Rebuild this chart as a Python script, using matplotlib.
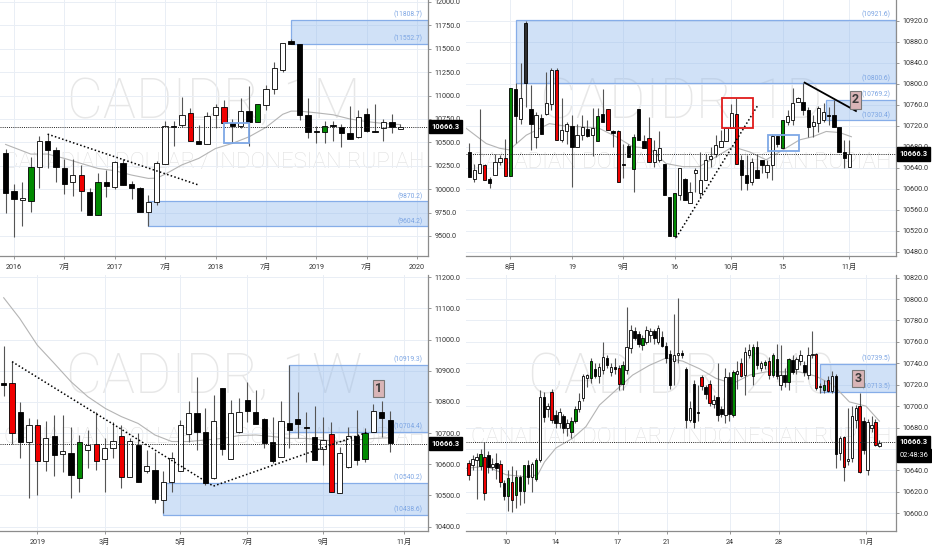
import numpy as np
import matplotlib
matplotlib.use("Agg")
import matplotlib.pyplot as plt
from matplotlib.patches import Rectangle
from matplotlib.transforms import blended_transform_factory

plt.rcParams['font.family'] = ['Roboto', 'Noto Sans CJK SC']

last_price = 10666.3
subtitle = 'CANADIAN DOLLAR / INDONESIAN RUPIAH'

# ---- monthly (top left), index 0 = 2016-01
m_idx = np.arange(-1, 47)
m_open = [10382, 9984, 9884, 9870, 10240, 10514, 10418, 10229, 10080, 10151, 9973, 9724, 10080, 10027, 10275, 10051,
          10009, 9760, 9866, 10270, 10677, 10691, 10809, 10517, 10482, 10791, 10873, 10709, 10674, 10834, 10720, 10898,
          11075, 11271, 11584, 11556, 10791, 10620, 10613, 10677, 10667, 10595, 10553, 10802, 10620, 10649, 10713, 10638]
m_high = [10425, 10055, 10080, 10347, 10567, 10588, 10453, 10318, 10318, 10258, 10009, 10176, 10204, 10300, 10318, 10087,
          10027, 9938, 10300, 10730, 10730, 10987, 10862, 10684, 10827, 10915, 10951, 10755, 10979, 11100, 10908, 11111,
          11360, 11566, 11600, 11556, 10979, 10674, 10730, 10730, 10695, 10887, 10844, 10862, 10915, 10755, 10802, 10695]
m_low = [9742, 9493, 9607, 9760, 10009, 10222, 10080, 9945, 9927, 9770, 9724, 9724, 9920, 9998, 10044, 9895,
         9756, 9607, 9831, 10270, 10464, 10667, 10517, 10482, 10482, 10656, 10702, 10489, 10649, 10460, 10720, 10844,
         11015, 11250, 11552, 10738, 10542, 10496, 10496, 10517, 10453, 10531, 10542, 10613, 10609, 10517, 10595, 10638]
m_close = [9962, 9891, 9909, 10240, 10514, 10418, 10240, 10055, 10151, 9984, 9724, 10080, 10037, 10286, 10044, 10016,
           9760, 9866, 10275, 10674, 10667, 10791, 10517, 10482, 10780, 10873, 10709, 10674, 10834, 10720, 10908, 11075,
           11296, 11566, 11556, 10791, 10613, 10609, 10674, 10670, 10595, 10531, 10766, 10624, 10609, 10720, 10667, 10666]
m_col = "kkwgwkkkwr" "kgkwkkkwww" "kwrkwwrkwk" "gwwwkkkkgk" "kkwkkwkw"
m_ticks = [0, 6, 12, 18, 24, 30, 36, 42, 48]
m_labels = ['2016', '7月', '2017', '7月', '2018', '7月', '2019', '7月', '2020']
m_ma_x = [-1, 2, 4, 6, 8, 10, 12, 14, 16, 17, 18, 20, 22, 24, 26, 28, 30, 32, 33, 34, 36, 38, 40, 42, 44, 46]
m_ma_y = [10478, 10375, 10375, 10329, 10275, 10222, 10197, 10151, 10115, 10118, 10160, 10260, 10329, 10435, 10489,
          10560, 10660, 10800, 10834, 10834, 10816, 10795, 10750, 10722, 10702, 10690]
m_zones = [(33, 11552.7, 11808.7), (16, 9604.2, 9870.2)]
m_trend_x = [4, 22]
m_trend_y = [10588, 10044]
m_box = (25, 28, 10489, 10709)

# ---- daily (top right), index 0 = 2019-08-01
d_idx = np.arange(-8, 67)
d_open = [10669, 10618, 10629, 10646, 10618, 10626, 10650, 10658,
          10624, 10789, 10732, 10915, 10751, 10699, 10734, 10743, 10761, 10826,
          10693, 10710, 10719, 10680, 10702, 10713, 10702, 10690, 10743, 10751,
          10709, 10710, 10648, 10681, 10637, 10751, 10690, 10696, 10651, 10655,
          10648, 10585, 10509, 10588, 10618, 10572, 10630, 10592, 10617, 10656,
          10666, 10680, 10690, 10715, 10742, 10655, 10626, 10613, 10636, 10655,
          10632, 10645, 10700, 10677, 10728, 10731, 10766, 10766, 10750, 10719,
          10726, 10731, 10740, 10740, 10718, 10670, 10641]
d_high = [10688, 10648, 10751, 10648, 10623, 10667, 10664, 10694,
          10791, 10801, 10839, 10920, 10797, 10747, 10743, 10823, 10829, 10829,
          10772, 10728, 10740, 10724, 10740, 10731, 10753, 10753, 10789, 10751,
          10712, 10712, 10685, 10686, 10705, 10751, 10702, 10737, 10693, 10709,
          10648, 10585, 10591, 10639, 10620, 10613, 10639, 10670, 10667, 10680,
          10702, 10712, 10718, 10761, 10772, 10664, 10664, 10658, 10667, 10655,
          10655, 10705, 10700, 10731, 10750, 10791, 10775, 10802, 10755, 10740,
          10757, 10763, 10756, 10769, 10718, 10693, 10693]
d_low = [10623, 10613, 10629, 10617, 10601, 10626, 10646, 10624,
         10624, 10688, 10724, 10756, 10674, 10677, 10705, 10740, 10750, 10693,
         10689, 10686, 10604, 10680, 10693, 10699, 10662, 10690, 10728, 10712,
         10680, 10613, 10620, 10661, 10594, 10693, 10677, 10650, 10642, 10651,
         10588, 10510, 10507, 10578, 10578, 10572, 10594, 10585, 10617, 10642,
         10661, 10680, 10690, 10715, 10648, 10597, 10597, 10607, 10620, 10629,
         10620, 10617, 10680, 10677, 10721, 10721, 10766, 10740, 10699, 10699,
         10708, 10728, 10721, 10718, 10670, 10639, 10641]
d_close = [10623, 10636, 10648, 10617, 10611, 10651, 10658, 10624,
           10791, 10738, 10772, 10802, 10724, 10740, 10705, 10763, 10826, 10693,
           10712, 10724, 10679, 10702, 10718, 10700, 10715, 10739, 10728, 10712,
           10707, 10613, 10646, 10661, 10699, 10693, 10677, 10650, 10674, 10677,
           10588, 10510, 10591, 10639, 10578, 10594, 10635, 10617, 10655, 10662,
           10683, 10691, 10716, 10745, 10648, 10626, 10610, 10651, 10620, 10645,
           10645, 10700, 10685, 10731, 10738, 10763, 10772, 10750, 10718, 10728,
           10753, 10747, 10738, 10718, 10670, 10658, 10667]
d_col = "kwwrkwwr" "gkwdkwkwwr" "wwkwwkwgkr" "krkkgkkrww" "kkgwkwwwww" "wwwwrkkwkk" "wwkgwwwkkw" "wwkkkkw"
d_ticks = [0, 12, 22, 32, 43, 53, 66]
d_labels = ['8月', '19', '9月', '16', '10月', '15', '11月']
d_ma_x = [-8.6, -4.7, -2.1, -0.2, 3.1, 7.6, 10.8, 14.1, 17.3, 20.6, 23.8, 27.1, 30.3, 33.6, 36.8, 40.1, 43.3,
          46.6, 49.8, 53.1, 56.3, 58.9, 61.5, 64.1, 66.4]
d_ma_y = [10715, 10686, 10677, 10674, 10702, 10724, 10719, 10718, 10715, 10699, 10680, 10677, 10648, 10642, 10642,
          10661, 10680, 10670, 10655, 10674, 10693, 10699, 10709, 10707, 10699]
d_zones = [(1, 10800.6, 10921.6), (61.4, 10730.4, 10769.2)]
d_dot_x = [32.3, 48.2]
d_dot_y = [10507, 10759]
d_line_x = [57.3, 67.3]
d_line_y = [10802, 10748]
d_red_box = (41.2, 47.2, 10716, 10773)
d_blue_box = (50.1, 56.3, 10672, 10703)

# ---- weekly (bottom left), index 0 = first week of 2019
w_idx = np.arange(-4, 43)
w_open = [10860, 10860, 10769, 10673, 10726, 10611, 10691, 10632, 10637, 10557, 10646, 10665, 10617, 10653, 10692, 10558,
          10662, 10580, 10582, 10486, 10542, 10578, 10696, 10763, 10702, 10557, 10844, 10617, 10702, 10806, 10769, 10745,
          10670, 10624, 10733, 10745, 10721, 10686, 10649, 10696, 10509, 10592, 10691, 10616, 10702, 10767, 10742]
w_high = [10980, 10931, 10801, 10747, 10745, 10740, 10758, 10758, 10721, 10694, 10710, 10767, 10683, 10737, 10726, 10683,
          10699, 10646, 10640, 10578, 10640, 10742, 10803, 10881, 10779, 10822, 10844, 10806, 10811, 10863, 10838, 10749,
          10753, 10803, 10919, 10833, 10769, 10787, 10753, 10737, 10656, 10721, 10774, 10717, 10792, 10803, 10771]
w_low = [10820, 10664, 10619, 10493, 10502, 10578, 10564, 10576, 10491, 10512, 10589, 10582, 10512, 10619, 10525, 10558,
         10544, 10571, 10475, 10443, 10512, 10578, 10673, 10646, 10534, 10553, 10630, 10617, 10699, 10737, 10729, 10651,
         10603, 10624, 10651, 10683, 10608, 10614, 10598, 10512, 10509, 10587, 10598, 10608, 10702, 10689, 10640]
w_close = [10854, 10699, 10670, 10726, 10611, 10683, 10630, 10643, 10566, 10673, 10662, 10611, 10653, 10676, 10558, 10675,
           10544, 10596, 10489, 10542, 10619, 10726, 10763, 10705, 10539, 10740, 10648, 10765, 10767, 10771, 10729, 10667,
           10612, 10740, 10710, 10728, 10715, 10614, 10678, 10512, 10635, 10691, 10614, 10701, 10771, 10749, 10667]
w_col = "krkwrwkwkg" "wrwwrwkwkw" "wwwkkwkwwk" "kkkwkkkkwr" "wwkgwkk"
w_ticks = [0, 8, 17, 25, 34, 43.6]
w_labels = ['2019', '3月', '5月', '7月', '9月', '11月']
w_ma_x = [-4, -2.1, 0, 1.9, 4, 6, 8.1, 10, 12, 14, 16, 18, 20, 22, 24, 26, 28, 30, 32, 34, 36, 38, 40, 42]
w_ma_y = [11134, 11068, 10982, 10927, 10865, 10817, 10779, 10753, 10731, 10694, 10673, 10673, 10678, 10683, 10692,
          10694, 10689, 10683, 10683, 10678, 10673, 10678, 10683, 10685]
w_zones = [(30, 10704.4, 10919.3), (15, 10438.6, 10540.2)]
w_dot_x = [-3, 20.95, 39.2]
w_dot_y = [10929, 10530, 10702]

# ---- 240 minutes (bottom right)
h_idx = np.arange(105)
h_open = [10647, 10645, 10650, 10644, 10653, 10654, 10643, 10647, 10646, 10628,
          10616, 10629, 10617, 10634, 10621, 10645, 10634, 10632, 10650, 10709,
          10697, 10713, 10692, 10684, 10691, 10680, 10676, 10686, 10697, 10708,
          10726, 10726, 10735, 10728, 10734, 10745, 10732, 10737, 10736, 10721,
          10734, 10754, 10770, 10767, 10757, 10760, 10766, 10770, 10760, 10765,
          10756, 10749, 10742, 10748, 10750, 10735, 10687, 10721, 10695, 10727,
          10718, 10721, 10702, 10709, 10697, 10692, 10727, 10692, 10730, 10740,
          10729, 10748, 10728, 10755, 10736, 10738, 10742, 10729, 10744, 10720,
          10729, 10723, 10743, 10735, 10742, 10738, 10729, 10748, 10749, 10719,
          10715, 10724, 10714, 10728, 10656, 10671, 10649, 10652, 10687, 10700,
          10686, 10640, 10680, 10685, 10663]
h_high = [10650, 10654, 10656, 10660, 10667, 10658, 10652, 10656, 10650, 10631,
          10640, 10644, 10640, 10636, 10645, 10650, 10648, 10652, 10715, 10713,
          10703, 10716, 10696, 10698, 10693, 10688, 10690, 10700, 10712, 10730,
          10730, 10745, 10740, 10740, 10760, 10748, 10740, 10745, 10738, 10742,
          10793, 10776, 10774, 10770, 10766, 10775, 10773, 10772, 10776, 10770,
          10760, 10752, 10786, 10801, 10752, 10737, 10705, 10724, 10720, 10729,
          10720, 10724, 10710, 10740, 10700, 10736, 10732, 10734, 10742, 10745,
          10755, 10758, 10758, 10761, 10742, 10743, 10746, 10750, 10758, 10757,
          10736, 10745, 10748, 10746, 10752, 10742, 10755, 10770, 10750, 10722,
          10724, 10728, 10733, 10730, 10672, 10672, 10698, 10700, 10701, 10712,
          10690, 10688, 10691, 10688, 10668]
h_low = [10631, 10640, 10613, 10640, 10612, 10638, 10640, 10632, 10625, 10612,
         10602, 10601, 10605, 10608, 10610, 10627, 10620, 10630, 10648, 10685,
         10690, 10684, 10680, 10680, 10675, 10672, 10670, 10684, 10695, 10705,
         10718, 10722, 10726, 10722, 10730, 10736, 10728, 10730, 10715, 10715,
         10730, 10750, 10762, 10755, 10752, 10758, 10760, 10758, 10758, 10755,
         10740, 10716, 10720, 10740, 10745, 10680, 10685, 10680, 10686, 10715,
         10707, 10700, 10698, 10686, 10690, 10684, 10686, 10690, 10716, 10727,
         10710, 10745, 10720, 10735, 10733, 10735, 10725, 10727, 10725, 10715,
         10718, 10715, 10730, 10730, 10738, 10728, 10725, 10745, 10715, 10712,
         10712, 10713, 10712, 10642, 10650, 10630, 10645, 10648, 10680, 10638,
         10655, 10636, 10676, 10663, 10662]
h_close = [10636, 10651, 10653, 10655, 10619, 10643, 10646, 10642, 10629, 10616,
           10633, 10612, 10634, 10621, 10645, 10634, 10646, 10650, 10709, 10690,
           10700, 10687, 10684, 10695, 10680, 10684, 10686, 10697, 10705, 10728,
           10729, 10742, 10728, 10737, 10746, 10738, 10737, 10735, 10721, 10738,
           10755, 10771, 10764, 10758, 10764, 10771, 10770, 10764, 10773, 10756,
           10745, 10720, 10748, 10750, 10748, 10687, 10698, 10685, 10694, 10719,
           10711, 10703, 10706, 10692, 10693, 10727, 10693, 10732, 10733, 10728,
           10751, 10752, 10755, 10738, 10740, 10741, 10729, 10748, 10728, 10729,
           10723, 10744, 10732, 10744, 10748, 10732, 10748, 10749, 10717, 10718,
           10720, 10714, 10728, 10655, 10670, 10643, 10651, 10691, 10698, 10639,
           10659, 10685, 10682, 10664, 10666]
h_col = ("rwwgrkwkrk" "grgkgkwgwk" "wrkwkwggww" "wgkwwkwkrg" "wwkkgwwkwk" "kkwwkkwkkr"
         "krwkkwkgwr" "wwgkwgrgkw" "kgkwwkwwrk" "grwkwrwwwr" "kwwrw")
h_ticks = [9.45, 21.9, 37.7, 50.2, 66.2, 78.6, 100.6]
h_labels = ['10', '14', '17', '21', '24', '28', '11月']
h_ma_x = [-0.7, 4.4, 9.5, 14.5, 17.5, 19.2, 22.1, 26.3, 29.7, 33.1, 37.3, 41.5, 45.7, 50, 54.2, 58.4, 62.6, 66.8,
          71.1, 75.3, 83.7, 87.9, 92.2, 96.4, 100.6, 104]
h_ma_y = [10642, 10644, 10636, 10634, 10636, 10648, 10661, 10670, 10681, 10701, 10715, 10729, 10738, 10745, 10742,
          10735, 10726, 10721, 10729, 10732, 10732, 10728, 10720, 10704, 10700, 10686]
h_zones = [(89, 10713.5, 10739.5)]

face = {'w': 'white', 'k': 'black', 'r': '#f00000', 'g': '#008a00', 'd': '#2e2e2e'}


def setup(ax, xlim, ylim, yticks, xticks, xlabels):
    ax.set_xlim(*xlim)
    ax.set_ylim(*ylim)
    ax.yaxis.tick_right()
    ax.set_yticks(yticks)
    ax.set_yticklabels([f'{v:.1f}' for v in yticks])
    ax.set_xticks(xticks)
    ax.set_xticklabels(xlabels)
    ax.tick_params(labelsize=5.2, color='#888888', labelcolor='#333333', length=2.5, width=0.6, pad=2)
    ax.tick_params(axis='x', pad=3)
    ax.grid(color='#e9eef5', lw=0.7)
    ax.set_axisbelow(True)
    for s in ('top', 'left'):
        ax.spines[s].set_visible(False)
    for s in ('right', 'bottom'):
        ax.spines[s].set_color('#8c8c8c')
        ax.spines[s].set_linewidth(0.9)
    ax.axhline(last_price, color='#222222', ls=(0, (1, 1.2)), lw=0.7, zorder=5)
    tr = blended_transform_factory(ax.transAxes, ax.transData)
    ax.text(1.008, last_price, f'{last_price:.1f}', transform=tr, ha='left', va='center', fontsize=5.4,
            color='white', fontweight='bold', clip_on=False, zorder=10,
            bbox=dict(boxstyle='square,pad=0.35', fc='black', ec='black'))


def watermark(ax, name):
    ax.text(0.5, 0.60, name, transform=ax.transAxes, ha='center', va='center', fontsize=40,
            fontweight='light', color='#e7e7e7', zorder=0, clip_on=True)
    ax.text(0.5, 0.365, subtitle, transform=ax.transAxes, ha='center', va='center', fontsize=16,
            fontweight='light', color='#e0e0e0', zorder=0, clip_on=True)


def candles(ax, x, o, h, l, c, col, w):
    o, h, l, c = map(np.asarray, (o, h, l, c))
    y0, y1 = ax.get_ylim()
    ax.vlines(x, l, h, color='#555555', lw=0.8, zorder=3)
    lo = np.minimum(o, c)
    ht = np.maximum(np.abs(c - o), (y1 - y0) * 0.004)
    ax.bar(x, ht, w, lo, color=[face[k] for k in col], edgecolor='black', linewidth=0.6, zorder=4)


def zone(ax, x0, lo, hi):
    x1 = ax.get_xlim()[1]
    ax.add_patch(Rectangle((x0, lo), x1 - x0, hi - lo, fc=(0.56, 0.72, 0.93, 0.42), ec='#86ade8',
                           lw=0.9, zorder=2))
    tr = blended_transform_factory(ax.transAxes, ax.transData)
    for v in (hi, lo):
        ax.annotate(f'({v:.1f})', xy=(0.988, v), xycoords=tr, xytext=(0, 1), textcoords='offset points',
                    ha='right', va='bottom', fontsize=4.9, color='#7ca5e3', zorder=6)


def box(ax, b, color):
    ax.add_patch(Rectangle((b[0], b[2]), b[1] - b[0], b[3] - b[2], fill=False, ec=color, lw=1.3, zorder=6))


def tag(ax, x, y, s):
    ax.text(x, y, s, ha='center', va='center', fontsize=9, fontweight='bold', color='#3a3a3a', zorder=8,
            bbox=dict(boxstyle='square,pad=0.18', fc='#d9b5b7', ec='#777777', lw=0.8))


fig = plt.figure(figsize=(9.32, 5.5), dpi=100)
ax1 = fig.add_axes([0, 0.5345, 0.4592, 0.4655])
ax2 = fig.add_axes([0.5, 0.5345, 0.4614, 0.4655])
ax3 = fig.add_axes([0, 0.0345, 0.4592, 0.4655])
ax4 = fig.add_axes([0.5, 0.0345, 0.4614, 0.4655])

# monthly
setup(ax1, (-1.67, 49.3), (9286, 12021), np.arange(9500, 12001, 250), m_ticks, m_labels)
watermark(ax1, 'CADIDR, 1M')
ax1.plot(m_ma_x, m_ma_y, color='#b4b4b4', lw=0.8, zorder=2.5)
for z in m_zones:
    zone(ax1, *z)
candles(ax1, m_idx, m_open, m_high, m_low, m_close, m_col, 0.64)
ax1.plot(m_trend_x, m_trend_y, color='black', ls=(0, (1, 1.5)), lw=1.1, zorder=6)
box(ax1, m_box, '#7ea8e6')

# daily
setup(ax2, (-8.64, 75.1), (10471.8, 10959.4), np.arange(10480, 10921, 40), d_ticks, d_labels)
watermark(ax2, 'CADIDR, 1D')
ax2.plot(d_ma_x, d_ma_y, color='#b4b4b4', lw=0.8, zorder=2.5)
for z in d_zones:
    zone(ax2, *z)
candles(ax2, d_idx, d_open, d_high, d_low, d_close, d_col, 0.64)
ax2.plot(d_dot_x, d_dot_y, color='black', ls=(0, (1, 1.5)), lw=1.1, zorder=6)
ax2.plot(d_line_x, d_line_y, color='black', lw=1.3, zorder=6)
box(ax2, d_red_box, '#e01b1b')
box(ax2, d_blue_box, '#7ea8e6')
tag(ax2, 67.2, 10769, '2')

# weekly
setup(ax3, (-4.44, 46.5), (10386.1, 11206.9), np.arange(10400, 11201, 100), w_ticks, w_labels)
watermark(ax3, 'CADIDR, 1W')
ax3.plot(w_ma_x, w_ma_y, color='#b4b4b4', lw=0.8, zorder=2.5)
for z in w_zones:
    zone(ax3, *z)
candles(ax3, w_idx, w_open, w_high, w_low, w_close, w_col, 0.62)
ax3.plot(w_dot_x, w_dot_y, color='black', ls=(0, (1, 1.5)), lw=1.1, zorder=6)
tag(ax3, 40.6, 10843, '1')

# 240 minutes
setup(ax4, (-0.68, 108.2), (10583.5, 10822.4), np.arange(10600, 10821, 20), h_ticks, h_labels)
watermark(ax4, 'CADIDR, 240')
ax4.plot(h_ma_x, h_ma_y, color='#b4b4b4', lw=0.8, zorder=2.5)
for z in h_zones:
    zone(ax4, *z)
candles(ax4, h_idx, h_open, h_high, h_low, h_close, h_col, 0.62)
tag(ax4, 98.5, 10726, '3')
tr4 = blended_transform_factory(ax4.transAxes, ax4.transData)
ax4.annotate('02:48:36', xy=(1.008, last_price), xycoords=tr4, xytext=(0, -9.5), textcoords='offset points',
             ha='left', va='center', fontsize=5.4, color='white', annotation_clip=False, zorder=10,
             bbox=dict(boxstyle='square,pad=0.35', fc='black', ec='black'))

fig.savefig('out.png', dpi=100)
